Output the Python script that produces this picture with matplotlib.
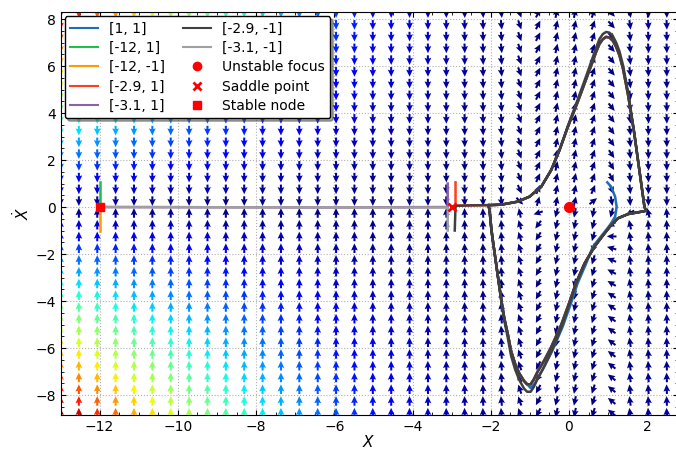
import numpy as np
import matplotlib.pyplot as plt
from matplotlib.ticker import MultipleLocator, AutoMinorLocator
from matplotlib.lines import Line2D

# model: x'' = mu*(1-x^2)*x' - k*x*(x+3)*(x+12)
mu = 5.0
k = 0.02

# fixed points (x, xdot)
focus = (0.0, 0.0)
saddle = (-3.0, 0.0)
node = (-12.0, 0.0)

# arrow grid
grid_x = np.linspace(-13, 2.5, 34)
grid_y = np.linspace(-8.75, 8.25, 35)

# limit cycle (x, xdot); two passes give the thick band
cyc_x = [-2.06, -1.73, -1.31, -1.01, -0.71, -0.455, -0.24, -0.03, 0.23, 0.48, 0.695, 0.78, 0.866, 0.95,
         1.035, 1.12, 1.21, 1.29, 1.38, 1.51, 1.67, 1.80, 1.93, 1.97,
         1.85, 1.51, 1.25, 1.08, 0.91, 0.65, 0.40, 0.18, 0.01, -0.20, -0.33, -0.46, -0.63, -0.80, -0.90,
         -0.98, -1.07, -1.15, -1.27, -1.375, -1.48, -1.56, -1.65, -1.72, -1.78, -1.84, -1.90, -1.96, -1.99,
         -2.03, -2.06]
cyc_y_out = [0.08, 0.10, 0.23, 0.44, 0.86, 1.57, 2.43, 3.44, 4.60, 5.76, 6.78, 7.15, 7.36, 7.45,
             7.42, 7.28, 6.99, 6.63, 6.05, 4.90, 3.16, 1.57, 0.01, -0.16,
             -0.20, -0.30, -0.48, -0.77, -1.12, -1.69, -2.40, -3.27, -4.14, -5.16, -5.68, -6.20, -6.78, -7.30,
             -7.66, -7.86, -7.86, -7.72, -7.36, -6.92, -6.33, -5.60, -4.86, -4.14, -3.40, -2.68, -1.97, -1.26,
             -0.84, -0.13, 0.08]
cyc_y_in = [0.08, 0.10, 0.23, 0.44, 0.86, 1.57, 2.43, 3.40, 4.50, 5.62, 6.60, 6.94, 7.14, 7.24,
            7.21, 7.08, 6.80, 6.46, 5.90, 4.78, 3.12, 1.57, 0.01, -0.16,
            -0.20, -0.30, -0.48, -0.77, -1.12, -1.69, -2.40, -3.23, -4.06, -5.02, -5.50, -5.98, -6.52, -7.00,
            -7.34, -7.54, -7.54, -7.40, -7.08, -6.68, -6.13, -5.44, -4.76, -4.06, -3.38, -2.68, -1.97, -1.26,
            -0.84, -0.13, 0.08]

# transients
blue_x = [0.98, 1.08, 1.18, 1.22, 1.18, 1.08, 0.95, 0.78, 0.61, 0.44, 0.22, 0.05, -0.16, -0.42, -0.68, -0.87, -0.98]
blue_y = [1.05, 0.86, 0.44, 0.01, -0.41, -0.69, -0.98, -1.33, -1.69, -2.40, -3.25, -4.10, -5.09, -6.09, -6.94, -7.50, -7.70]
green_x = [-12.0, -12.0]
green_y = [1.05, 0.0]
orange_x = [-12.0, -12.0]
orange_y = [-1.0, 0.0]
red_x = [-2.90, -2.90, -2.50, -2.06]
red_y = [1.05, 0.06, 0.07, 0.08]
purple_x = [-3.10, -3.10, -6.0, -12.0]
purple_y = [1.0, 0.0, -0.02, 0.0]
dark_x = [-2.92, -2.90, -2.50, -2.06]
dark_y = [-1.0, 0.05, 0.07, 0.08]
light_x = [-3.10, -3.10, -6.0, -12.0]
light_y = [-1.0, -0.02, -0.02, 0.0]

labels = ["[1, 1]", "[-12, 1]", "[-12, -1]", "[-2.9, 1]", "[-3.1, 1]", "[-2.9, -1]", "[-3.1, -1]"]
colors = ["#1f6fb4", "#1fbf4a", "#ff9a00", "#ff3d1f", "#8c62a5", "#404040", "#a0a0a0"]

fig = plt.figure(figsize=(6.76, 4.5), dpi=100)
ax = fig.add_axes([0.0895, 0.0767, 0.913, 0.8967])

X, Y = np.meshgrid(grid_x, grid_y)
U = Y
V = mu * (1 - X**2) * Y - k * X * (X + 3) * (X + 12)
M = np.hypot(U, V)
ax.quiver(X, Y, U / M, V / M, M, cmap='jet', pivot='mid', scale=64, width=0.0033,
          headwidth=3.3, headlength=3.5, headaxislength=3.1, zorder=1)

lw = 1.8
blue_full_x = blue_x + cyc_x[40:] + cyc_x
blue_full_y = blue_y + cyc_y_in[40:] + cyc_y_in
ax.plot(blue_full_x, blue_full_y, color=colors[0], lw=lw, zorder=2)
ax.plot(green_x, green_y, color=colors[1], lw=lw, zorder=2)
ax.plot(orange_x, orange_y, color=colors[2], lw=lw, zorder=2)
ax.plot(red_x + cyc_x, red_y + cyc_y_in, color=colors[3], lw=lw, zorder=2)
ax.plot(purple_x, purple_y, color=colors[4], lw=lw, zorder=2)
ax.plot(dark_x + cyc_x + cyc_x, dark_y + cyc_y_out + cyc_y_in, color=colors[5], lw=lw, zorder=2)
ax.plot(light_x, light_y, color=colors[6], lw=lw, zorder=2)

ax.plot(*focus, 'o', color='red', ms=7, zorder=5)
ax.plot(*saddle, 'x', color='red', ms=6, mew=2, zorder=5)
ax.plot(*node, 's', color='red', ms=6, zorder=5)

handles = [Line2D([], [], color=c, lw=1.5) for c in colors]
handles += [Line2D([], [], color='red', marker='o', ls='none', ms=6),
            Line2D([], [], color='red', marker='x', ls='none', ms=6, mew=2),
            Line2D([], [], color='red', marker='s', ls='none', ms=6)]
leg = ax.legend(handles, labels + ["Unstable focus", "Saddle point", "Stable node"], ncol=2,
                loc='upper left', shadow=True, fancybox=True, framealpha=1, fontsize=10,
                borderaxespad=0.3, columnspacing=1.3, labelspacing=0.38)
leg.get_frame().set_edgecolor('black')
leg.set_zorder(10)

ax.set_xlim(-13, 2.78)
ax.set_ylim(-8.87, 8.30)
ax.xaxis.set_major_locator(MultipleLocator(2))
ax.yaxis.set_major_locator(MultipleLocator(2))
ax.xaxis.set_minor_locator(AutoMinorLocator())
ax.yaxis.set_minor_locator(AutoMinorLocator())
ax.tick_params(which='both', direction='in', top=True, right=True, labelsize=10)
ax.grid(True, linestyle=':', color='#b0b0b0', lw=0.8)
ax.set_axisbelow(True)
ax.set_xlabel('$X$', fontsize=11, labelpad=0)
ax.set_ylabel(r'$\dot{X}$', fontsize=11, labelpad=2)

fig.savefig("out.png")
